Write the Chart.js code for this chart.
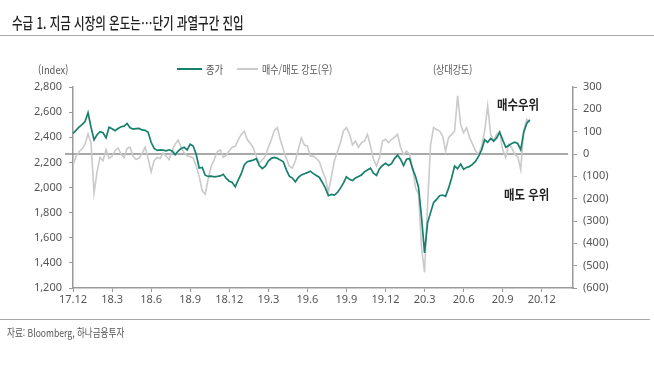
<!DOCTYPE html>
<html lang="ko">
<head>
<meta charset="utf-8">
<script src="https://cdn.jsdelivr.net/npm/chart.js@4.4.1/dist/chart.umd.min.js"></script>
<style>
  html, body { margin: 0; padding: 0; background: #fff; }
  #wrap { position: relative; width: 654px; height: 380px; overflow: hidden; font-family: "Noto Sans CJK KR", "Noto Sans", sans-serif; }
  #chart { position: absolute; left: 0; top: 0; }
  .txt { position: absolute; white-space: nowrap; transform-origin: left center; color: #555; }
  .rule { position: absolute; left: 0; height: 1px; background: #a8a8a8; }
</style>
</head>
<body>
<div id="wrap">
  <canvas id="chart" width="654" height="380"></canvas>
  <div class="txt" style="left:12px; top:10px; font-size:16px; font-weight:500; color:#222; transform:scaleX(0.72);">수급 1. 지금 시장의 온도는…단기 과열구간 진입</div>
  <div class="rule" style="top:35px; width:654px;"></div>
  <div class="txt" style="left:38px; top:61px; font-size:11px; transform:scaleX(0.85);">(Index)</div>
  <div class="txt" style="left:433px; top:61px; font-size:11px; transform:scaleX(0.82);">(상대강도)</div>
  <div style="position:absolute; left:177px; top:68px; width:25px; height:2px; background:#17806d;"></div>
  <div class="txt" style="left:206px; top:61px; font-size:11px; transform:scaleX(0.85);">종가</div>
  <div style="position:absolute; left:237px; top:68px; width:21px; height:2px; background:#cacaca;"></div>
  <div class="txt" style="left:262px; top:61px; font-size:11px; transform:scaleX(0.82);">매수/매도 강도(우)</div>
  <div class="txt" style="left:497px; top:94px; font-size:13px; font-weight:bold; color:#222; transform:scaleX(0.88);">매수우위</div>
  <div class="txt" style="left:504px; top:184px; font-size:13px; font-weight:bold; color:#222; transform:scaleX(0.88);">매도 우위</div>
  <div class="rule" style="top:319px; width:650px;"></div>
  <div class="txt" style="left:7px; top:324px; font-size:11px; transform:scaleX(0.78);">자료: Bloomberg, 하나금융투자</div>
</div>
<script>
// x축: 주 단위 (0 = 17.12 시작)
const tickWeeks = [0, 13, 26, 39, 52, 65, 78, 91, 104, 117, 130, 143, 156];
const tickLabels = ['17.12', '18.3', '18.6', '18.9', '18.12', '19.3', '19.6', '19.9', '19.12', '20.3', '20.6', '20.9', '20.12'];

// 좌축 (Index) 눈금
const leftTicks = [1200, 1400, 1600, 1800, 2000, 2200, 2400, 2600, 2800];
// 우축 (상대강도) 눈금
const rightTicks = [-600, -500, -400, -300, -200, -100, 0, 100, 200, 300];

// 종가 (주간)
const kospi = [
  2430, 2455, 2480, 2500, 2525, 2595, 2480, 2380, 2420, 2444,
  2436, 2395, 2480, 2468, 2452, 2470, 2484, 2488, 2510, 2475,
  2465, 2468, 2470, 2458, 2455, 2440, 2360, 2311, 2295, 2300,
  2298, 2292, 2300, 2290, 2262, 2290, 2310, 2320, 2300, 2345,
  2330, 2265, 2155, 2160, 2098, 2088, 2090, 2085, 2088, 2092,
  2105, 2072, 2050, 2040, 2005, 2060, 2110, 2180, 2205, 2212,
  2218, 2230, 2175, 2150, 2170, 2210, 2232, 2240, 2232, 2218,
  2205, 2140, 2090, 2075, 2045, 2080, 2100, 2110, 2118, 2130,
  2110, 2095, 2080, 2040, 1995, 1935, 1945, 1940, 1960, 1995,
  2035, 2085, 2065, 2055, 2075, 2088, 2100, 2125, 2140, 2154,
  2114, 2096, 2150, 2175, 2192, 2175, 2190, 2230, 2258, 2225,
  2175, 2225, 2230, 2150, 2088, 2000, 1760, 1480, 1720, 1800,
  1880, 1905, 1935, 1940, 1930, 1995, 2075, 2170, 2150, 2186,
  2145, 2160, 2168, 2186, 2210, 2250, 2300, 2380, 2360, 2390,
  2370, 2395, 2440, 2380, 2320, 2335, 2350, 2360, 2350, 2300,
  2440, 2510, 2540
];

// 매수/매도 강도 (우축)
const strength = [
  -50, -11, 10, 22, 45, 90, 50, -175, -80, -15,
  -30, 20, -20, -10, 15, 27, 0, -15, 25, 30,
  -10, -25, -18, 4, 30, -20, -80, -30, -15, -20,
  4, -10, -25, 15, 45, 62, 30, 5, -8, -12,
  -18, -55, -100, -165, -180, -110, -55, -25, 10, 18,
  -15, -5, 15, 30, 34, 64, 87, 102, 65, 48,
  27, -10, -40, -26, -11, 30, 64, 105, 118, 64,
  20, -20, -55, -63, -30, 20, 72, 40, 36, -10,
  -9, -20, -35, -75, -110, -170, -100, -30, 10, 50,
  103, 118, 90, 40, 58, 30, 50, 58, 88, 36,
  -24, -54, -16, 58, 66, 51, 66, 75, 88, 30,
  -2, 13, 0, -61, -151, -180, -420, -530, -226, 40,
  118, 110, 103, 81, 13, 73, 88, 103, 260, 133,
  95, 118, 73, 43, 13, -2, 36, 103, 215, 88,
  58, 88, 100, 20, -16, 43, 28, -2, -12, -70,
  103, 155, 140
];

const zeroLine = {
  id: 'zeroLine',
  beforeDatasetsDraw(chart) {
    const y = chart.scales.y1.getPixelForValue(0);
    const ctx = chart.ctx;
    ctx.save();
    ctx.strokeStyle = '#8c8c8c';
    ctx.lineWidth = 1.5;
    ctx.beginPath();
    ctx.moveTo(65, y);
    ctx.lineTo(568, y);
    ctx.stroke();
    ctx.restore();
  }
};

const tickFont = { family: '"Noto Sans", sans-serif', size: 11 };

new Chart(document.getElementById('chart'), {
  type: 'line',
  data: {
    datasets: [
      {
        label: '종가',
        data: kospi.map((v, i) => ({ x: i, y: v })),
        yAxisID: 'y',
        borderColor: '#17806d',
        borderWidth: 1.7,
        pointRadius: 0,
        tension: 0
      },
      {
        label: '매수/매도 강도(우)',
        data: strength.map((v, i) => ({ x: i, y: v })),
        yAxisID: 'y1',
        borderColor: '#cacaca',
        borderWidth: 1.6,
        pointRadius: 0,
        tension: 0
      }
    ]
  },
  options: {
    responsive: false,
    animation: false,
    layout: { padding: { left: 0, right: 0, top: 87, bottom: 72 } },
    plugins: { legend: { display: false }, tooltip: { enabled: false } },
    scales: {
      x: {
        type: 'linear',
        min: 0,
        max: 166.4,
        afterBuildTicks: (scale) => { scale.ticks = tickWeeks.map(v => ({ value: v })); },
        afterFit: (scale) => { scale.height = 20; },
        border: { color: '#9a9a9a', width: 1.5 },
        grid: { drawOnChartArea: false, drawTicks: true, tickLength: 4, color: '#9a9a9a' },
        ticks: {
          autoSkip: false,
          maxRotation: 0,
          padding: 1,
          color: '#555',
          font: tickFont,
          callback: (v) => tickLabels[tickWeeks.indexOf(v)]
        }
      },
      y: {
        position: 'left',
        min: 1200,
        max: 2800,
        afterBuildTicks: (scale) => { scale.ticks = leftTicks.map(v => ({ value: v })); },
        afterFit: (scale) => { scale.width = 73; },
        border: { color: '#9a9a9a', width: 1.5 },
        grid: { drawOnChartArea: false, drawTicks: true, tickLength: 4, color: '#9a9a9a' },
        ticks: {
          padding: 7,
          color: '#555',
          font: tickFont,
          callback: (v) => v.toLocaleString('en-US')
        }
      },
      y1: {
        position: 'right',
        min: -600,
        max: 300,
        afterBuildTicks: (scale) => { scale.ticks = rightTicks.map(v => ({ value: v })); },
        afterFit: (scale) => { scale.width = 81; },
        border: { color: '#9a9a9a', width: 1.5 },
        grid: { drawOnChartArea: false, drawTicks: true, tickLength: 4, color: '#9a9a9a' },
        ticks: {
          padding: 6,
          color: '#555',
          font: tickFont,
          callback: (v) => v < 0 ? '(' + Math.abs(v) + ')' : String(v)
        }
      }
    }
  },
  plugins: [zeroLine]
});
</script>
</body>
</html>
